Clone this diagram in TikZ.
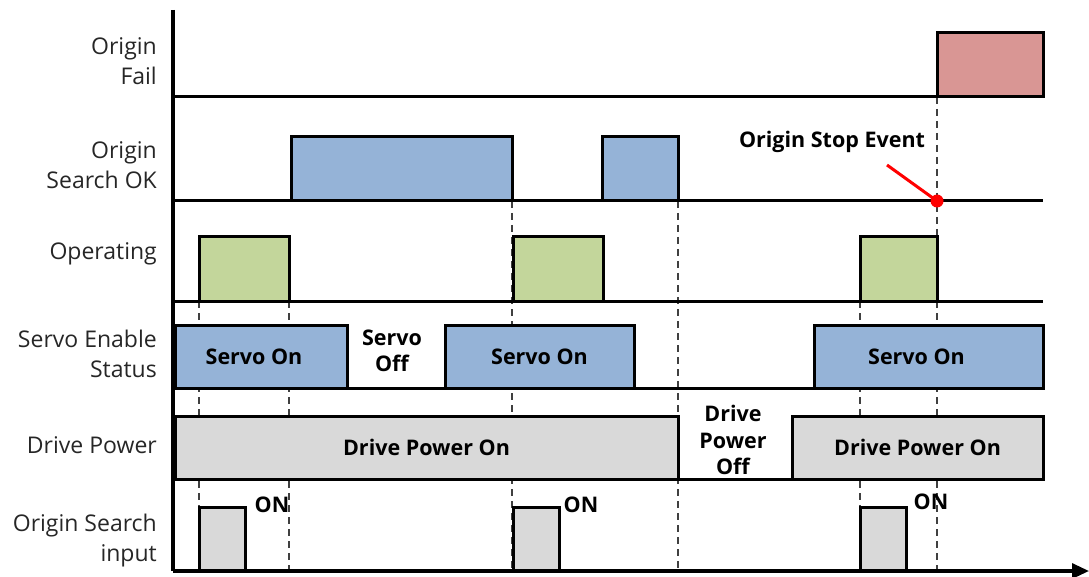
\documentclass[tikz,border=0pt]{standalone}
\usepackage{fontspec}
\setmainfont{Open Sans}
\usetikzlibrary{arrows.meta}
\definecolor{sigblue}{HTML}{95B3D7}
\definecolor{siggreen}{HTML}{C3D69B}
\definecolor{sigred}{HTML}{D99694}
\definecolor{siggray}{HTML}{D9D9D9}
\definecolor{labelgray}{HTML}{262626}
\begin{document}
\begin{tikzpicture}[x=1pt,y=-1pt,
  sig/.style={draw=black, line width=3pt, inner sep=0pt, outer sep=0pt, anchor=south west,
    font=\fontsize{21.5}{26}\selectfont\bfseries},
  baseline/.style={line width=3pt},
  guide/.style={dash pattern=on 7pt off 5pt, line width=1.3pt, draw=black!75},
  rowlabel/.style={anchor=east, align=right, inner sep=0pt,
    font=\fontsize{23}{30}\selectfont, text=labelgray},
  txt/.style={inner sep=0pt, align=center, font=\fontsize{21.5}{26.5}\selectfont\bfseries},
  axis/.style={line width=3.2pt}]
\useasboundingbox (0,0) rectangle (1089,577);

% guide lines (behind everything)
\foreach \gx/\gy in {199/301, 289/301, 512/201, 678/201, 860/301, 937/97}
  \draw[guide] (\gx,\gy) -- (\gx,570);

% baselines
\coordinate (fL) at (173,97);   \coordinate (fR) at (1043,97);
\coordinate (sL) at (173,201);  \coordinate (sR) at (1043,201);
\coordinate (oL) at (173,301);  \coordinate (oR) at (1043,301);
\coordinate (vL) at (173,388);  \coordinate (vR) at (1043,388);
\coordinate (dL) at (173,479);  \coordinate (dR) at (1043,479);
\draw[baseline] (fL) -- (fR);
\draw[baseline] (sL) -- (sR);
\draw[baseline] (oL) -- (oR);
\draw[baseline] (vL) -- (vR);
\draw[baseline] (dL) -- (dR);

% axes
\coordinate (top) at (173,10);
\coordinate (orig) at (173,571);
\coordinate (tend) at (1089,571);
\draw[axis] (top) -- (orig);
\draw[axis, -{Triangle[length=17pt,width=15pt]}] (orig) -- (tend);

% Origin Fail
\node[sig, fill=sigred, minimum width=106pt, minimum height=64pt] (fail1) at (937,97) {};
% Origin Search OK
\node[sig, fill=sigblue, minimum width=221pt, minimum height=64pt] (ok1) at (291,201) {};
\node[sig, fill=sigblue, minimum width=76pt, minimum height=64pt] (ok2) at (602,201) {};
% Operating
\node[sig, fill=siggreen, minimum width=90pt, minimum height=64pt] (op1) at (199,301) {};
\node[sig, fill=siggreen, minimum width=90pt, minimum height=64pt] (op2) at (513,301) {};
\node[sig, fill=siggreen, minimum width=77pt, minimum height=64pt] (op3) at (860,301) {};
% Servo Enable Status
\node[sig, fill=sigblue, minimum width=172pt, minimum height=63pt] (sv1) at (175,388) {Servo On\hspace*{14pt}};
\node[sig, fill=sigblue, minimum width=189pt, minimum height=63pt] (sv2) at (445,388) {Servo On};
\node[sig, fill=sigblue, minimum width=229pt, minimum height=63pt] (sv3) at (814,388) {\hspace*{-24pt}Servo On};
% Drive Power
\node[sig, fill=siggray, minimum width=503pt, minimum height=63pt] (dp1) at (175,479) {Drive Power On};
\node[sig, fill=siggray, minimum width=251pt, minimum height=63pt] (dp2) at (792,479) {Drive Power On};
% Origin Search input
\node[sig, fill=siggray, minimum width=46pt, minimum height=63pt] (in1) at (199,570) {};
\node[sig, fill=siggray, minimum width=46pt, minimum height=63pt] (in2) at (513,570) {};
\node[sig, fill=siggray, minimum width=46pt, minimum height=63pt] (in3) at (860,570) {};

% in-row texts
\node[txt] (soff) at (392,351) {Servo\\Off};
\node[txt] (dpoff) at (733,440) {Drive\\Power\\Off};
\node[txt] (on1) at (272,505) {ON};
\node[txt] (on2) at (581,505) {ON};
\node[txt] (on3) at (931,502) {ON};

% Origin stop event
\node[txt] (ose) at (832,142) {Origin Stop Event};
\coordinate (arrs) at (887,165);
\node[circle, fill=red, inner sep=0pt, minimum size=13pt] (stop) at (937,201) {};
\draw[red, line width=3pt] (arrs) -- (stop.center);

% row labels
\node[rowlabel] (l1) at (157,61) {Origin\\Fail};
\node[rowlabel] (l2) at (157,165) {Origin\\Search OK};
\node[rowlabel] (l3) at (157,254) {Operating};
\node[rowlabel] (l4) at (157,354) {Servo Enable\\Status};
\node[rowlabel] (l5) at (157,445) {Drive Power};
\node[rowlabel] (l6) at (157,541) {Origin Search\\input};
\end{tikzpicture}
\end{document}
